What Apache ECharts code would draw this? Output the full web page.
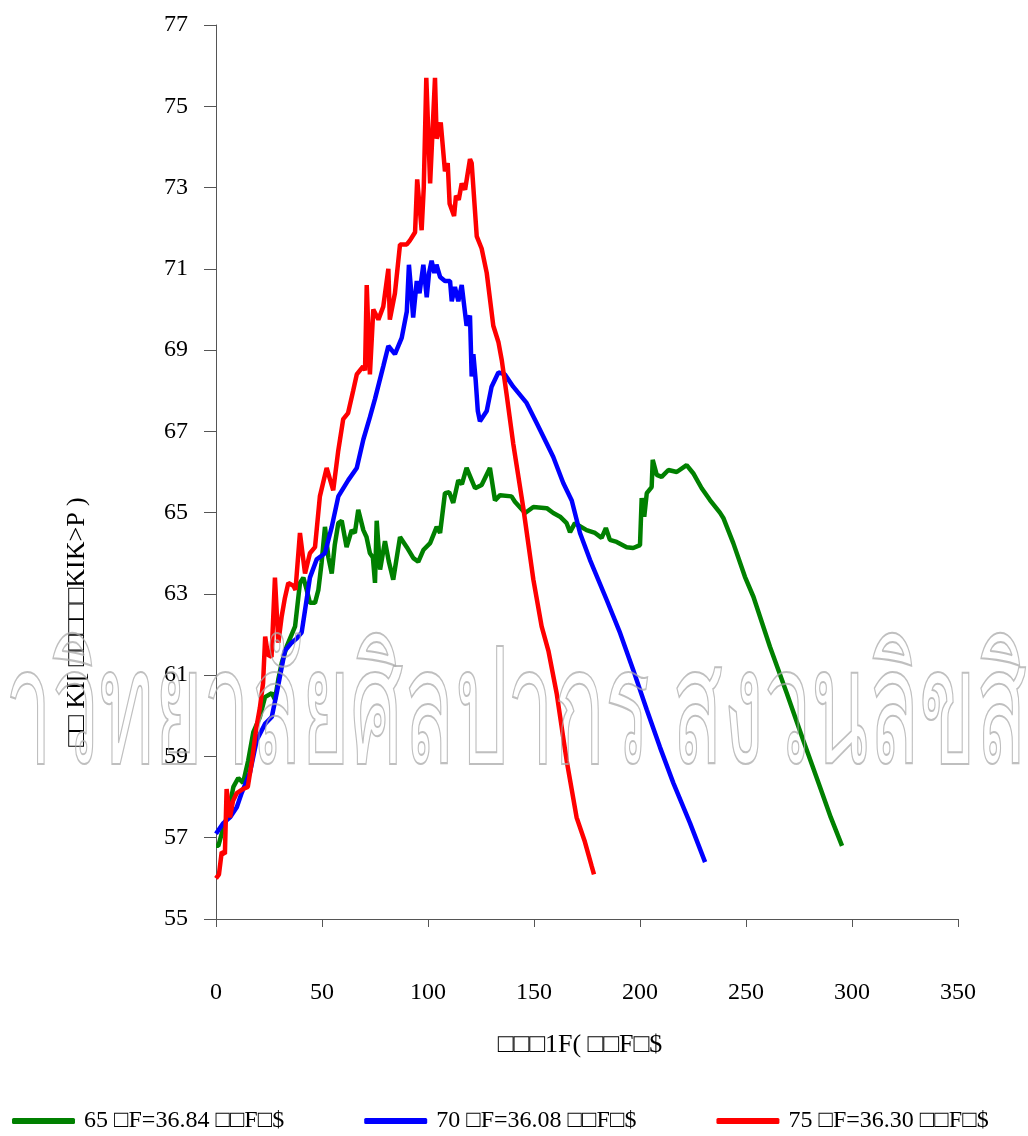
<!DOCTYPE html>
<html lang="th">
<head>
<meta charset="UTF-8">
<title>chart</title>
<script src="https://cdn.jsdelivr.net/npm/echarts@6/dist/echarts.min.js"></script>
<style>
  html, body { margin: 0; padding: 0; background: #fff; }
  #main { width: 1028px; height: 1136px; }
</style>
</head>
<body>
<div id="main"></div>
<script>
// series names as printed (the original Thai font did not render)
var seriesNames = ['65 \u25A1F=36.84 \u25A1\u25A1F\u25A1$', '70 \u25A1F=36.08 \u25A1\u25A1F\u25A1$', '75 \u25A1F=36.30 \u25A1\u25A1F\u25A1$'];
var xName = '\u25A1\u25A1\u25A11F( \u25A1\u25A1F\u25A1$';
var yName = '\u25A1\u25A1 KI[ \u25A1\u25A1\u25A1\u25A1\u25A1KIK>P )';
var watermark = 'มหาวิทยาลัยศิลปากร สงวนลิขสิทธิ์';

// [x, y] points
var green65 = [[0,56.8],[1.1,56.8],[2.7,57.1],[5.7,57.6],[8.2,58.25],[10.5,58.47],[12.8,58.35],[15.2,58.9],[17.6,59.6],[20.7,59.97],[23.1,60.46],[26.3,60.56],[27.8,60.4],[29.4,60.9],[31,61.3],[33.3,61.7],[34.1,61.8],[37.3,62.2],[38.8,62.9],[39.6,63.27],[41.2,63.4],[42.8,63.1],[44.3,62.78],[46.7,62.78],[48.3,63.1],[49.8,63.76],[51.4,64.65],[53,63.9],[54.6,63.5],[56,64.2],[57.7,64.74],[59.3,64.8],[61.6,64.15],[64,64.57],[65.5,64.5],[67.1,65.07],[69.5,64.57],[71,64.4],[72.6,64.0],[74,63.9],[75,63.27],[75.8,64.8],[77.4,63.6],[79.7,64.3],[81.5,63.8],[83.6,63.35],[86.8,64.4],[90,64.15],[93.1,63.88],[95.4,63.79],[97.8,64.08],[101,64.25],[104.1,64.65],[105.7,64.5],[108,65.48],[110,65.5],[111.9,65.24],[114.3,65.8],[116,65.7],[118.2,66.1],[120.6,65.8],[122.2,65.6],[125.3,65.68],[129.2,66.1],[131.6,65.3],[134,65.43],[139.4,65.4],[141,65.27],[145.8,64.99],[149.7,65.14],[156,65.11],[159.1,64.99],[162.3,64.9],[165.4,64.74],[167,64.52],[169.3,64.74],[174.8,64.57],[178.8,64.5],[181.9,64.38],[183.9,64.62],[185.8,64.33],[189,64.28],[193.7,64.15],[196.8,64.13],[200,64.2],[200.8,65.36],[202,64.9],[203.2,65.48],[205.5,65.63],[206,66.3],[207.9,65.93],[210.2,65.88],[213.4,66.05],[217.3,66.0],[222,66.17],[225.1,65.97],[229.1,65.6],[233,65.31],[237.7,65.0],[239.3,64.87],[244,64.25],[249.5,63.42],[253.5,62.93],[261.3,61.7],[269.2,60.56],[277,59.4],[284.9,58.25],[290,57.5],[295.3,56.8]];

var blue70 = [[0,57.1],[3.3,57.35],[6.6,57.5],[9.8,57.75],[12.1,58.1],[16,58.6],[19.2,59.4],[23.1,59.8],[26.3,59.97],[28.6,60.55],[32.5,61.6],[35.7,61.8],[38,61.9],[40.4,62.05],[42,62.6],[44.3,63.4],[47.5,63.85],[51.4,64.0],[54.6,64.65],[57.7,65.4],[62.4,65.8],[66.4,66.1],[69.5,66.8],[72.6,67.35],[75,67.8],[78.9,68.6],[81.3,69.1],[84.4,68.9],[87.6,69.3],[90,69.95],[91,71.1],[92,70.5],[93,69.8],[94.7,70.7],[96,70.4],[97.8,71.1],[99.4,70.3],[100.5,70.9],[101.7,71.2],[103,70.9],[104,71.1],[105.7,70.8],[108,70.7],[110.4,70.7],[111.2,70.2],[112.7,70.55],[114.3,70.2],[115.9,70.6],[117.5,69.9],[118.2,69.6],[119.8,69.85],[120.6,68.35],[121.4,68.9],[122.5,68.25],[123.5,67.5],[124.5,67.25],[127.7,67.5],[130,68.1],[133.2,68.45],[136.3,68.4],[140.2,68.1],[146.5,67.7],[151.3,67.2],[156,66.7],[159.1,66.37],[163.8,65.73],[167.8,65.3],[171.7,64.5],[176.4,63.84],[184.3,62.85],[190.6,62.04],[196.8,61.13],[203.2,60.15],[209.4,59.23],[215.7,58.35],[223.6,57.36],[230.7,56.4]];

var red75 = [[0,56.0],[1.4,56.1],[2.7,56.65],[4.2,56.6],[5,58.2],[6.6,57.5],[8,57.9],[9.8,58.1],[12.8,58.2],[15,58.25],[17,58.9],[19,59.7],[20.7,60.2],[22.2,60.8],[23.2,61.95],[24.5,61.5],[26.2,61.45],[27.8,63.4],[29.4,61.8],[31,62.45],[32.5,62.9],[34.1,63.27],[36.5,63.2],[37.5,63.1],[39.6,64.5],[42,63.5],[44.3,64.0],[46.7,64.15],[49,65.4],[52.2,66.1],[55.3,65.55],[57.6,66.5],[60,67.3],[62.3,67.45],[64.7,68.0],[66.4,68.4],[69.4,68.6],[70.3,68.5],[71.1,70.6],[72.6,68.4],[74.2,70.0],[76.6,69.75],[78.9,70.07],[81.3,71.0],[82,69.75],[84.4,70.4],[86.8,71.6],[90,71.6],[91.5,71.7],[93.9,71.9],[94.9,73.2],[97,71.95],[98,73.0],[99.2,75.7],[101,73.1],[103.3,75.7],[104.1,74.2],[106,74.6],[108,73.4],[109.3,73.6],[110.2,72.6],[112.3,72.3],[113.2,72.8],[114.5,72.7],[115.9,73.1],[117.5,72.95],[119.8,73.7],[120.6,73.6],[123,71.8],[125.3,71.5],[127.7,70.9],[130.8,69.6],[133.2,69.2],[134.8,68.75],[137.1,67.9],[140.2,66.7],[145,65.1],[149.7,63.35],[153.6,62.2],[156.8,61.6],[160.7,60.55],[165.4,58.9],[170.1,57.5],[174,56.9],[177.2,56.3],[178.3,56.1]];

var lineColors = ['#008000', '#0000ff', '#ff0000'];
var serif = '"Liberation Serif", "Times New Roman", serif';

var chart = echarts.init(document.getElementById('main'));
chart.setOption({
  backgroundColor: '#fff',
  animation: false,
  grid: { left: 216, right: 70, top: 25, bottom: 217 },
  legend: {
    left: 7,
    top: 1104,
    itemWidth: 63,
    itemHeight: 6,
    itemGap: 80,
    icon: 'roundRect',
    textStyle: { fontFamily: serif, fontSize: 24, color: '#000', padding: [0, 0, 0, 4] },
    data: seriesNames
  },
  xAxis: {
    type: 'value',
    min: 0,
    max: 350,
    interval: 50,
    splitLine: { show: false },
    axisLine: { lineStyle: { color: '#555', width: 1 } },
    axisTick: { length: 8, lineStyle: { color: '#555' } },
    axisLabel: { fontFamily: serif, fontSize: 24, color: '#000', margin: 62 }
  },
  yAxis: {
    type: 'value',
    min: 55,
    max: 77,
    interval: 2,
    splitLine: { show: false },
    axisLine: { show: true, lineStyle: { color: '#555', width: 1 } },
    axisTick: { show: true, length: 12, lineStyle: { color: '#555' } },
    axisLabel: { fontFamily: serif, fontSize: 24, color: '#000', margin: 28 }
  },
  graphic: [
    {
      type: 'text',
      x: 580,
      y: 1045,
      style: { text: xName, font: '26px ' + serif, fill: '#000', align: 'center', verticalAlign: 'middle' }
    },
    {
      type: 'text',
      x: 77,
      y: 622,
      rotation: Math.PI / 2,
      style: { text: yName, font: '26px ' + serif, fill: '#000', align: 'center', verticalAlign: 'middle' }
    },
    {
      type: 'text',
      x: 514,
      y: 717,
      z: 100,
      scaleX: 0.67,
      scaleY: 1.3,
      style: {
        text: watermark,
        font: '125px "Noto Sans", "DejaVu Sans", sans-serif',
        fill: 'rgba(0,0,0,0)',
        stroke: 'rgba(170,170,170,0.75)',
        lineWidth: 1.6,
        align: 'center',
        verticalAlign: 'middle'
      }
    }
  ],
  series: [
    { name: seriesNames[0], type: 'line', data: green65, showSymbol: false, color: lineColors[0], lineStyle: { width: 4.5 } },
    { name: seriesNames[1], type: 'line', data: blue70, showSymbol: false, color: lineColors[1], lineStyle: { width: 4.5 } },
    { name: seriesNames[2], type: 'line', data: red75, showSymbol: false, color: lineColors[2], lineStyle: { width: 4.5 } }
  ]
});
</script>
</body>
</html>
